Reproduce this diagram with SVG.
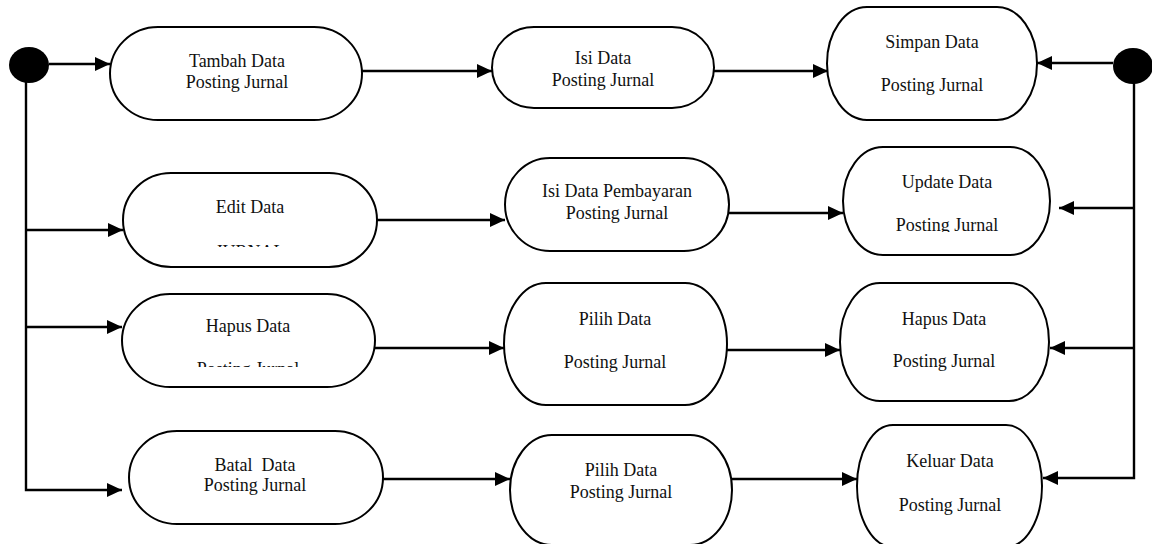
<svg xmlns="http://www.w3.org/2000/svg" width="1152" height="544" viewBox="0 0 1152 544">
<style>
.n{fill:#fff;stroke:#000;stroke-width:2}
.t{font-family:"Liberation Serif","Times New Roman",serif;font-size:18px;fill:#111;text-anchor:middle}
.c{fill:none;stroke:#000;stroke-width:2.4}
.dot{fill:#000}
</style>
<defs>
<marker id="ah" markerUnits="userSpaceOnUse" markerWidth="16" markerHeight="14" refX="15" refY="7" orient="auto">
<path d="M0,0 L15,7 L0,14 z" fill="#000"/>
</marker>
<clipPath id="clipEdit"><rect x="120" y="170" width="260" height="77"/></clipPath>
<clipPath id="clipHapus"><rect x="120" y="290" width="260" height="77"/></clipPath>
<clipPath id="clipUpdate"><rect x="840" y="140" width="215" height="92"/></clipPath>
</defs>

<g id="connectors">
<path class="c" d="M49,64 L110,64" marker-end="url(#ah)"/>
<path class="c" d="M26,82 L26,490 L122,490" marker-end="url(#ah)"/>
<path class="c" d="M26,230 L123,230" marker-end="url(#ah)"/>
<path class="c" d="M26,327 L122,327" marker-end="url(#ah)"/>
<path class="c" d="M362,71 L492,71" marker-end="url(#ah)"/>
<path class="c" d="M714,71 L828,71" marker-end="url(#ah)"/>
<path class="c" d="M377,220 L505,220" marker-end="url(#ah)"/>
<path class="c" d="M729,213 L843,213" marker-end="url(#ah)"/>
<path class="c" d="M375,348 L504,348" marker-end="url(#ah)"/>
<path class="c" d="M727,350 L840,350" marker-end="url(#ah)"/>
<path class="c" d="M383,479 L510,479" marker-end="url(#ah)"/>
<path class="c" d="M732,479 L857,479" marker-end="url(#ah)"/>
<path class="c" d="M1113,63 L1037,63" marker-end="url(#ah)"/>
<path class="c" d="M1134,82 L1134,478 L1043,478" marker-end="url(#ah)"/>
<path class="c" d="M1134,208 L1059,208" marker-end="url(#ah)"/>
<path class="c" d="M1134,348 L1050,348" marker-end="url(#ah)"/>
</g>

<g id="start-left"><ellipse class="dot" cx="29" cy="65" rx="20" ry="18"/></g>
<g id="start-right"><ellipse class="dot" cx="1133" cy="66" rx="20" ry="18"/></g>

<g id="tambah">
<rect class="n" x="110" y="27" width="252" height="93" rx="48" ry="46.5"/>
<text class="t" x="237" y="67">Tambah Data</text>
<text class="t" x="237" y="88">Posting Jurnal</text>
</g>
<g id="isi">
<rect class="n" x="492" y="27" width="222" height="81" rx="42" ry="40.5"/>
<text class="t" x="603" y="64">Isi Data</text>
<text class="t" x="603" y="86">Posting Jurnal</text>
</g>
<g id="simpan">
<rect class="n" x="827" y="7" width="210" height="113" rx="40" ry="56.5"/>
<text class="t" x="932" y="48">Simpan Data</text>
<text class="t" x="932" y="91">Posting Jurnal</text>
</g>

<g id="edit">
<rect class="n" x="123" y="173" width="254" height="94" rx="48" ry="47"/>
<text class="t" x="250" y="213">Edit Data</text>
<text class="t" x="250" y="258" clip-path="url(#clipEdit)">JURNAL</text>
</g>
<g id="isi-pembayaran">
<rect class="n" x="505" y="158" width="224" height="93" rx="45" ry="46.5"/>
<text class="t" x="617" y="197">Isi Data Pembayaran</text>
<text class="t" x="617" y="219">Posting Jurnal</text>
</g>
<g id="update">
<rect class="n" x="843" y="147" width="207" height="108" rx="40" ry="54"/>
<text class="t" x="947" y="188">Update Data</text>
<text class="t" x="947" y="231" clip-path="url(#clipUpdate)">Posting Jurnal</text>
</g>

<g id="hapus-left">
<rect class="n" x="122" y="294" width="253" height="93" rx="48" ry="46.5"/>
<text class="t" x="248" y="332">Hapus Data</text>
<text class="t" x="248" y="375" clip-path="url(#clipHapus)">Posting Jurnal</text>
</g>
<g id="pilih1">
<rect class="n" x="504" y="283" width="223" height="122" rx="42" ry="61"/>
<text class="t" x="615" y="325">Pilih Data</text>
<text class="t" x="615" y="368">Posting Jurnal</text>
</g>
<g id="hapus-right">
<rect class="n" x="840" y="283" width="209" height="118" rx="40" ry="59"/>
<text class="t" x="944" y="325">Hapus Data</text>
<text class="t" x="944" y="367">Posting Jurnal</text>
</g>

<g id="batal">
<rect class="n" x="129" y="431" width="254" height="93" rx="48" ry="46.5"/>
<text class="t" x="255" y="471" xml:space="preserve">Batal  Data</text>
<text class="t" x="255" y="491">Posting Jurnal</text>
</g>
<g id="pilih2">
<rect class="n" x="510" y="435" width="222" height="110" rx="42" ry="55"/>
<text class="t" x="621" y="476">Pilih Data</text>
<text class="t" x="621" y="498">Posting Jurnal</text>
</g>
<g id="keluar">
<rect class="n" x="857" y="425" width="185" height="122" rx="36" ry="61"/>
<text class="t" x="950" y="467">Keluar Data</text>
<text class="t" x="950" y="511">Posting Jurnal</text>
</g>
</svg>
